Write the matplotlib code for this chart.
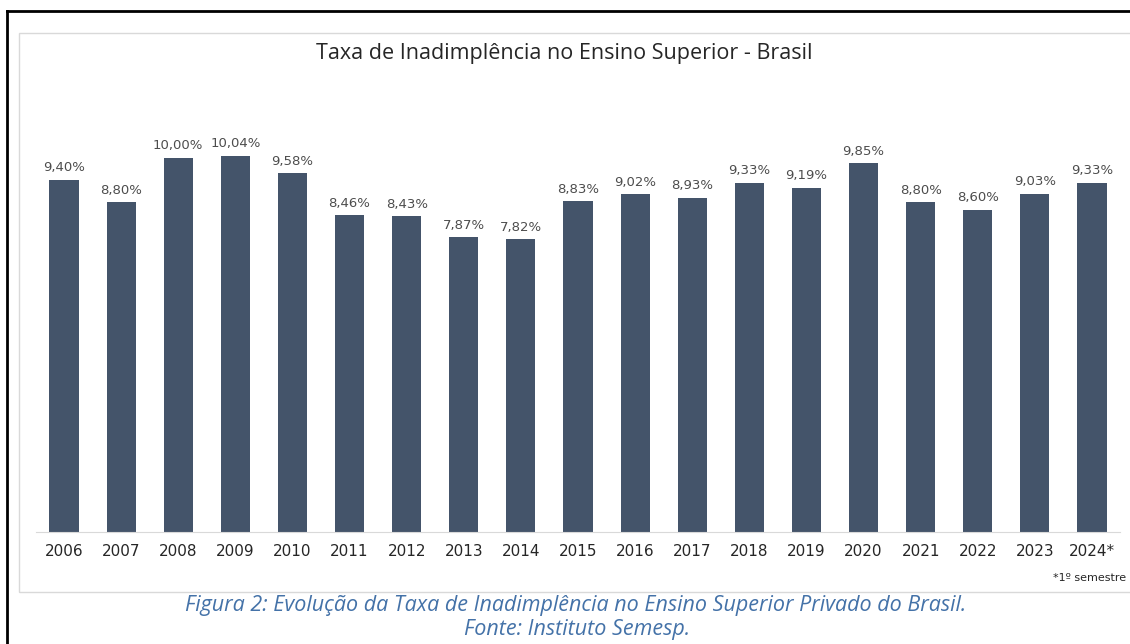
import matplotlib.pyplot as plt
from matplotlib.lines import Line2D
from matplotlib.patches import Rectangle

years = ['2006', '2007', '2008', '2009', '2010', '2011', '2012', '2013', '2014', '2015',
         '2016', '2017', '2018', '2019', '2020', '2021', '2022', '2023', '2024*']
rates = [9.40, 8.80, 10.00, 10.04, 9.58, 8.46, 8.43, 7.87, 7.82, 8.83,
         9.02, 8.93, 9.33, 9.19, 9.85, 8.80, 8.60, 9.03, 9.33]

W, H = 1130, 644
BAR = '#44546a'
TXT = '#4d4d4d'

fig = plt.figure(figsize=(W / 100, H / 100), dpi=100)

def fx(px):
    return px / W

def fy(py):
    return 1 - py / H

# black frame (left + top), grey chart box
fig.add_artist(Line2D([fx(7), fx(7)], [0, fy(11)], color='black', lw=2, transform=fig.transFigure))
fig.add_artist(Line2D([fx(7), 1], [fy(11), fy(11)], color='black', lw=2, transform=fig.transFigure))
fig.add_artist(Rectangle((fx(19), fy(592)), fx(1140) - fx(19), fy(33) - fy(592),
                         fill=False, ec='#d9d9d9', lw=1, transform=fig.transFigure))

ax = fig.add_axes([fx(36), fy(532), fx(1120) - fx(36), fy(100) - fy(532)])
x = range(len(years))
ax.bar(x, rates, width=0.51, color=BAR, zorder=2)
ax.set_xlim(-0.49, 18.49)
ax.set_ylim(0, 432 / 37.45)

for i, v in enumerate(rates):
    ax.annotate(f'{v:.2f}%'.replace('.', ','), (i, v), xytext=(0, 4), textcoords='offset points',
                ha='center', va='bottom', fontsize=9.5, color=TXT, family='DejaVu Sans')

for s in ['top', 'left', 'right']:
    ax.spines[s].set_visible(False)
ax.spines['bottom'].set_color('#d9d9d9')
ax.set_yticks([])
ax.set_xticks(list(x))
ax.set_xticklabels(years, fontsize=11, color='#262626', family='DejaVu Sans')
ax.tick_params(axis='x', length=0, pad=9)

fig.text(fx(564), fy(54), 'Taxa de Inadimplência no Ensino Superior - Brasil',
         ha='center', va='center', fontsize=15.5, color='#262626', family='Open Sans')
fig.text(fx(1126), fy(578), '*1º semestre', ha='right', va='center', fontsize=8,
         color='#262626', family='DejaVu Sans')
fig.text(fx(576), fy(606), 'Figura 2: Evolução da Taxa de Inadimplência no Ensino Superior Privado do Brasil.',
         ha='center', va='center', fontsize=15.5, style='italic', color='#4472a8', family='Open Sans')
fig.text(fx(577), fy(629), 'Fonte: Instituto Semesp.',
         ha='center', va='center', fontsize=15.5, style='italic', color='#4472a8', family='Open Sans')

fig.savefig('out.png', dpi=100)
